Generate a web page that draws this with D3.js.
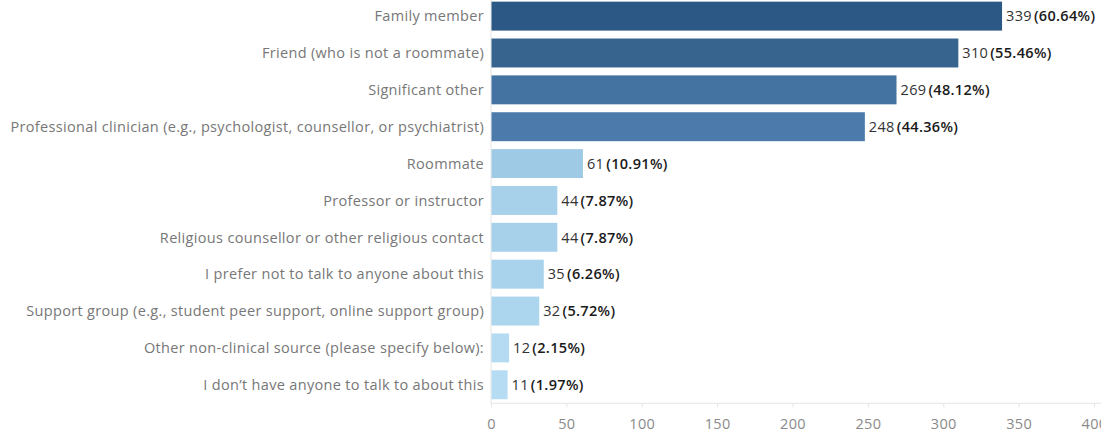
<!DOCTYPE html>
<html>
<head>
<meta charset="utf-8">
<script src="https://cdn.jsdelivr.net/npm/d3@7"></script>
<style>
  body { margin: 0; background: #fff; }
  svg { display: block; font-family: "Open Sans", "Noto Sans", sans-serif; }
</style>
</head>
<body>
<svg id="chart" width="1101" height="433"></svg>
<script>
// Who respondents talk to (counts and share of respondents)
const categories = [
  "Family member",
  "Friend (who is not a roommate)",
  "Significant other",
  "Professional clinician (e.g., psychologist, counsellor, or psychiatrist)",
  "Roommate",
  "Professor or instructor",
  "Religious counsellor or other religious contact",
  "I prefer not to talk to anyone about this",
  "Support group (e.g., student peer support, online support group)",
  "Other non-clinical source (please specify below):",
  "I don\u2019t have anyone to talk to about this"
];
const counts = [339, 310, 269, 248, 61, 44, 44, 35, 32, 12, 11];
const percents = ["60.64%", "55.46%", "48.12%", "44.36%", "10.91%", "7.87%", "7.87%", "6.26%", "5.72%", "2.15%", "1.97%"];
const barColors = ["#2c5885", "#37638f", "#4573a1", "#4b7aab", "#9fcae6", "#a7d0eb", "#a7d0eb", "#a9d3ed", "#acd5ee", "#b4dbf1", "#b5dcf2"];
const xTicks = [0, 50, 100, 150, 200, 250, 300, 350, 400];

const svg = d3.select("#chart");
const plotLeft = 491, plotRight = 1094, plotTop = -2.4, plotBottom = 403.3;
const fontSize = 14.5, tracking = "0.33px";

const x = d3.scaleLinear().domain([0, 400]).range([plotLeft, plotRight]);
const y = d3.scaleBand().domain(categories).range([plotTop, plotBottom])
  .paddingInner(0.215).paddingOuter(0.11);

// Zero line
svg.append("line").attr("x1", plotLeft).attr("x2", plotLeft).attr("y1", 0).attr("y2", plotBottom)
  .attr("stroke", "#e4e4e4").attr("stroke-width", 1);

// Bars
svg.selectAll("rect.bar").data(categories).join("rect")
  .attr("class", "bar")
  .attr("x", x(0) + 0.5)
  .attr("y", d => y(d))
  .attr("width", (d, i) => x(counts[i]) - x(0) - 0.5)
  .attr("height", y.bandwidth())
  .attr("fill", (d, i) => barColors[i]);

// Category labels
svg.selectAll("text.cat").data(categories).join("text")
  .attr("class", "cat")
  .attr("x", 484)
  .attr("y", d => y(d) + y.bandwidth() / 2)
  .attr("dy", "0.36em")
  .attr("text-anchor", "end")
  .attr("font-size", fontSize)
  .attr("letter-spacing", tracking)
  .attr("fill", "#777")
  .text(d => d);

// Value labels: count plus bold percentage
const vl = svg.selectAll("text.val").data(categories).join("text")
  .attr("class", "val")
  .attr("x", (d, i) => x(counts[i]) + 4)
  .attr("y", d => y(d) + y.bandwidth() / 2)
  .attr("dy", "0.36em")
  .attr("font-size", fontSize)
  .attr("letter-spacing", tracking);
vl.append("tspan").attr("fill", "#333").text((d, i) => counts[i]);
vl.append("tspan").attr("dx", 2).attr("fill", "#1a1a1a").attr("font-weight", 600)
  .text((d, i) => "(" + percents[i] + ")");

// X axis
const axis = svg.append("g").attr("transform", `translate(0,${plotBottom})`)
  .call(d3.axisBottom(x).tickValues(xTicks).tickSize(4).tickPadding(11));
axis.select(".domain").attr("stroke", "#e4e4e4").attr("d", `M${plotLeft},0H1101`);
axis.selectAll(".tick line").attr("stroke", "#e4e4e4");
axis.selectAll(".tick text").attr("fill", "#8a8a8a").attr("font-size", fontSize)
  .attr("letter-spacing", tracking)
  .attr("font-family", "'Open Sans', 'Noto Sans', sans-serif");
</script>
</body>
</html>
